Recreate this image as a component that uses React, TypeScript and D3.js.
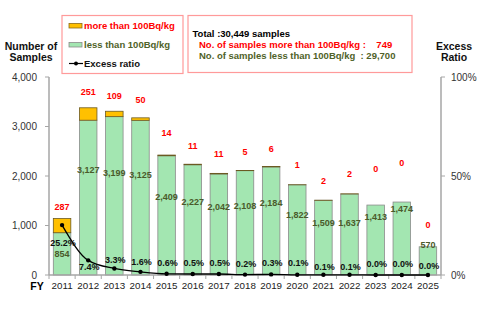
import React from "react";
import * as d3 from "d3";

const years = ["2011","2012","2013","2014","2015","2016","2017","2018","2019","2020","2021","2022","2023","2024","2025"];
const lessThan = [854,3127,3199,3125,2409,2227,2042,2108,2184,1822,1509,1637,1413,1474,570];
const moreThan = [287,251,109,50,14,11,11,5,6,1,2,2,0,0,0];
const ratio = [25.2,7.4,3.3,1.6,0.6,0.5,0.5,0.2,0.3,0.1,0.1,0.1,0.0,0.0,0.0];
// label anchors (in axis units) as placed in the reference
const greenLabelAt = [424,2121,2067,2020,1582,1481,1380,1394,1461,1212,1044,1057,1178,1333,606];
const redLabelAt = [1368,3703,3616,3535,2863,2606,2438,2479,2539,2222,1905,2040,2141,2257,1010];
const pctLabelAt = [16.0,3.9,7.6,6.4,6.1,6.1,6.1,5.6,5.9,5.9,3.9,3.9,5.4,5.4,4.7];
const leftTicks = [0,1000,2000,3000,4000];
const rightTicks = [0,50,100];

const W = 484, H = 327;
const L = 49, R = 441, T = 77, B = 275;
const FONT = "'Liberation Sans', Arial, sans-serif";
const GREEN = "#a3e6b1";
const ORANGE = "#ffc000";
const RED = "#ff0000";
const DKGREEN = "#4f6228";

export default function App() {
  const x = d3.scaleBand<string>().domain(years).range([L, R]).paddingInner(0.33).paddingOuter(0.165);
  const y = d3.scaleLinear().domain([0, 4000]).range([B, T]);
  const yr = d3.scaleLinear().domain([0, 100]).range([B, T]);
  const cx = (i: number) => (x(years[i]) as number) + x.bandwidth() / 2;
  const line = d3.line<number>().x((_, i) => cx(i)).y(d => yr(d)).curve(d3.curveMonotoneX);
  const fmt = d3.format(",");
  const step = x.step();

  return (
    <svg width={W} height={H} style={{ position: "absolute", left: 0, top: 0, fontFamily: FONT }}>
      <rect width={W} height={H} fill="#fff" />
      {/* bars */}
      {years.map((yv, i) => {
        const x0 = x(yv) as number;
        const g0 = y(lessThan[i]);
        const t0 = y(lessThan[i] + moreThan[i]);
        return (
          <g key={yv}>
            <rect x={x0} y={g0} width={x.bandwidth()} height={B - g0} fill={GREEN} stroke="#8a8a8a" strokeWidth={0.8} />
            {moreThan[i] > 0 && (
              <rect x={x0} y={t0} width={x.bandwidth()} height={g0 - t0} fill={ORANGE} stroke="#6b5a22" strokeWidth={0.8} />
            )}
          </g>
        );
      })}
      {/* axes */}
      <line x1={L} y1={T} x2={L} y2={B} stroke="#a6a6a6" strokeWidth={1.5} />
      <line x1={R} y1={T} x2={R} y2={B} stroke="#a6a6a6" strokeWidth={1.5} />
      <line x1={L} y1={B} x2={R} y2={B} stroke="#a6a6a6" strokeWidth={1.5} />
      {leftTicks.map(t => (
        <g key={"l" + t}>
          <line x1={L - 4} x2={L} y1={y(t)} y2={y(t)} stroke="#a6a6a6" strokeWidth={1} />
          <text x={L - 12} y={y(t)} dy="0.35em" textAnchor="end" fontSize={10} fill="#333">{fmt(t)}</text>
        </g>
      ))}
      {rightTicks.map(t => (
        <g key={"r" + t}>
          <line x1={R} x2={R + 4} y1={yr(t)} y2={yr(t)} stroke="#a6a6a6" strokeWidth={1} />
          <text x={R + 10} y={yr(t)} dy="0.35em" textAnchor="start" fontSize={10} fill="#333">{t + "%"}</text>
        </g>
      ))}
      {d3.range(years.length + 1).map(i => (
        <line key={"xt" + i} x1={L + i * step} x2={L + i * step} y1={B} y2={B + 4} stroke="#a6a6a6" strokeWidth={1} />
      ))}
      {years.map((yv, i) => (
        <text key={"xl" + yv} x={cx(i)} y={B + 11} dy="0.35em" textAnchor="middle" fontSize={9.8} fill="#222">{yv}</text>
      ))}
      <text x={37} y={B + 11.5} dy="0.35em" textAnchor="middle" fontSize={10.5} fontWeight="bold" fill="#000">FY</text>
      {/* axis titles */}
      <text x={31} y={46} dy="0.35em" textAnchor="middle" fontSize={10.5} fontWeight="bold" fill="#111">Number of</text>
      <text x={31} y={57.5} dy="0.35em" textAnchor="middle" fontSize={10.5} fontWeight="bold" fill="#111">Samples</text>
      <text x={454} y={46} dy="0.35em" textAnchor="middle" fontSize={10.5} fontWeight="bold" fill="#111">Excess</text>
      <text x={454} y={57.5} dy="0.35em" textAnchor="middle" fontSize={10.5} fontWeight="bold" fill="#111">Ratio</text>
      {/* green labels */}
      {years.map((yv, i) => (
        <text key={"gl" + yv} x={cx(i)} y={y(greenLabelAt[i])} dy="0.35em" textAnchor="middle" fontSize={9} fontWeight="bold" fill="#4a5a2a">{fmt(lessThan[i])}</text>
      ))}
      {/* red labels */}
      {years.map((yv, i) => (
        <text key={"rl" + yv} x={cx(i)} y={y(redLabelAt[i])} dy="0.35em" textAnchor="middle" fontSize={9} fontWeight="bold" fill={RED}>{fmt(moreThan[i])}</text>
      ))}
      {/* ratio line */}
      <path d={line(ratio) || ""} fill="none" stroke="#000" strokeWidth={1.3} />
      {ratio.map((r, i) => (
        <circle key={"pt" + i} cx={cx(i)} cy={yr(r)} r={2.2} fill="#000" />
      ))}
      {ratio.map((r, i) => (
        <text key={"pl" + i} x={cx(i) + 1} y={yr(pctLabelAt[i])} dy="0.35em" textAnchor="middle" fontSize={9} fontWeight="bold" fill="#111">{r.toFixed(1) + "%"}</text>
      ))}
      {/* legend box 1 */}
      <rect x={62} y={15.5} width={121} height={58} fill="#fff" stroke="#ff9a9a" strokeWidth={1.2} />
      <rect x={69} y={23.5} width={13} height={4.5} fill={ORANGE} stroke="#8a6a1a" strokeWidth={0.8} />
      <text x={84} y={26} dy="0.35em" fontSize={9.5} fontWeight="bold" fill={RED}>more than 100Bq/kg</text>
      <rect x={69} y={42.5} width={13} height={4.5} fill={GREEN} stroke="#8a8a8a" strokeWidth={0.8} />
      <text x={84} y={44.8} dy="0.35em" fontSize={9.5} fontWeight="bold" fill={DKGREEN}>less than 100Bq/kg</text>
      <line x1={69} x2={83} y1={63.5} y2={63.5} stroke="#000" strokeWidth={1.2} />
      <circle cx={76} cy={63.5} r={2} fill="#000" />
      <text x={84} y={63.5} dy="0.35em" fontSize={9.5} fontWeight="bold" fill="#111">Excess ratio</text>
      {/* legend box 2 */}
      <rect x={188} y={15.5} width={224} height={57} fill="#fff" stroke="#ff9a9a" strokeWidth={1.2} />
      <text x={192.5} y={33.5} dy="0.35em" fontSize={9.5} fontWeight="bold" fill="#000">Total :30,449 samples</text>
      <text x={199} y={44.5} dy="0.35em" fontSize={9.5} fontWeight="bold" fill={RED} xmlSpace="preserve">{"No. of samples more than 100Bq/kg :    749"}</text>
      <text x={199} y={56} dy="0.35em" fontSize={9.5} fontWeight="bold" fill={DKGREEN} xmlSpace="preserve">{"No. of samples less than 100Bq/kg  : 29,700"}</text>
    </svg>
  );
}
